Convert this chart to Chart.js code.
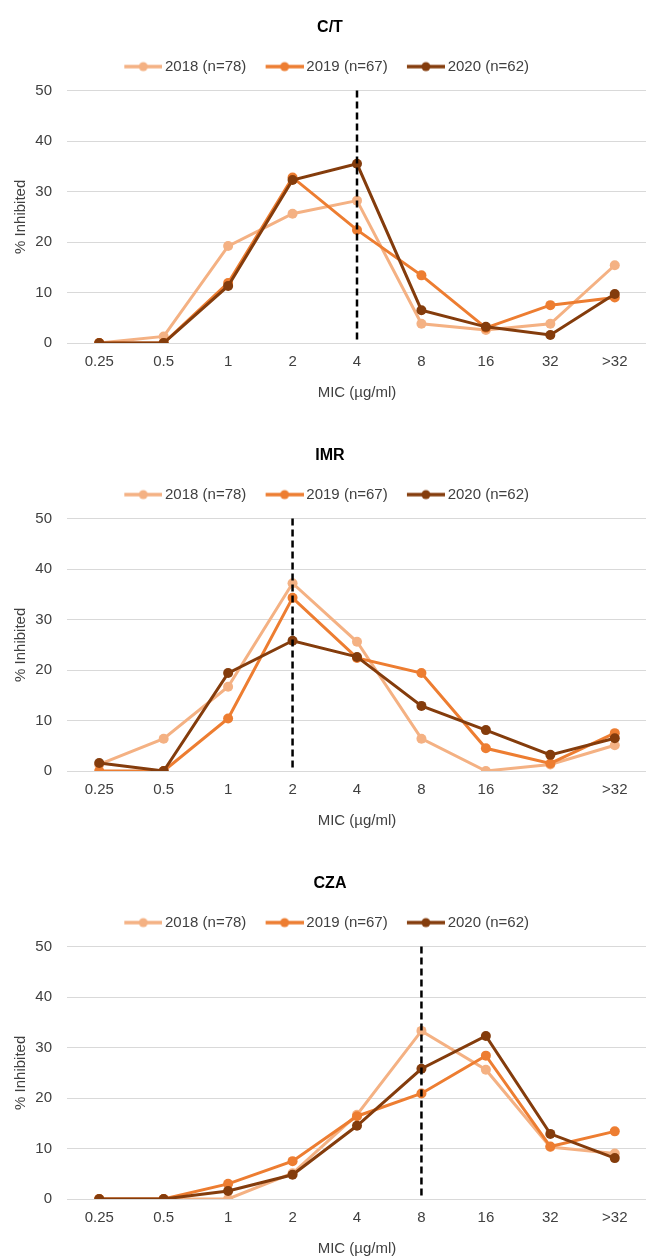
<!DOCTYPE html>
<html>
<head>
<meta charset="utf-8">
<script src="https://cdn.jsdelivr.net/npm/chart.js@4.4.0/dist/chart.umd.min.js"></script>
<style>
  html, body { margin: 0; padding: 0; background: #fff; overflow: hidden; }
  #wrap { position: relative; width: 652px; height: 1256px; overflow: hidden; }
  canvas { position: absolute; left: 0; width: 652px; height: 428px; }
</style>
</head>
<body>
<div id="wrap">
  <canvas id="ctChart" width="652" height="428" style="top:0px"></canvas>
  <canvas id="imrChart" width="652" height="428" style="top:428px"></canvas>
  <canvas id="czaChart" width="652" height="428" style="top:856px"></canvas>
</div>
<script>
// MIC categories and series
const micLabels = ['0.25', '0.5', '1', '2', '4', '8', '16', '32', '>32'];
const yearLabels = ['2018 (n=78)', '2019 (n=67)', '2020 (n=62)'];
const yearColors = ['#F4B183', '#ED7D31', '#843C0C'];

const ct2018 = [0, 1.3, 19.2, 25.6, 28.2, 3.8, 2.6, 3.8, 15.4];
const ct2019 = [0, 0, 11.9, 32.8, 22.4, 13.4, 3.0, 7.5, 9.0];
const ct2020 = [0, 0, 11.3, 32.3, 35.5, 6.5, 3.2, 1.6, 9.7];

const imr2018 = [1.3, 6.4, 16.7, 37.2, 25.6, 6.4, 0, 1.3, 5.1];
const imr2019 = [0, 0, 10.4, 34.3, 22.4, 19.4, 4.5, 1.5, 7.5];
const imr2020 = [1.6, 0, 19.4, 25.8, 22.6, 12.9, 8.1, 3.2, 6.5];

const cza2018 = [0, 0, 0, 5.1, 16.7, 33.3, 25.6, 10.3, 9.0];
const cza2019 = [0, 0, 3.0, 7.5, 16.4, 20.9, 28.4, 10.4, 13.4];
const cza2020 = [0, 0, 1.6, 4.8, 14.5, 25.8, 32.3, 12.9, 8.1];

// breakpoint (dashed line) per drug
const ctBreakpoint = '4';
const imrBreakpoint = '2';
const czaBreakpoint = '8';

const font = "'Liberation Sans', Arial, sans-serif";

// Excel-style legend marker: line with a dot in the middle
function legendIcon(color) {
    const c = document.createElement('canvas');
    c.width = 58;
    c.height = 12;
    const g = c.getContext('2d');
    g.strokeStyle = color;
    g.lineWidth = 3.5;
    g.beginPath();
    g.moveTo(20, 6);
    g.lineTo(58, 6);
    g.stroke();
    g.fillStyle = color;
    g.beginPath();
    g.arc(39, 6, 4.5, 0, Math.PI * 2);
    g.fill();
    return c;
}
const legendIcons = yearColors.map(legendIcon);

// extra room under the legend, and nudge it a bit to the left
const legendGap = {
    id: 'legendGap',
    beforeInit(chart) {
        const fit = chart.legend.fit;
        chart.legend.fit = function () {
            fit.call(this);
            this.height += 6.5;
        };
    },
    afterLayout(chart) {
        chart.legend.left -= 11;
        chart.legend.right -= 11;
    },
};

// dashed breakpoint line
const breakpointLine = {
    id: 'breakpointLine',
    afterDatasetsDraw(chart, args, opts) {
        const x = chart.scales.x.getPixelForValue(micLabels.indexOf(opts.category));
        const y = chart.scales.y;
        const ctx = chart.ctx;
        ctx.save();
        ctx.strokeStyle = '#000';
        ctx.lineWidth = 2.5;
        ctx.setLineDash([7, 4]);
        ctx.beginPath();
        ctx.moveTo(x, y.getPixelForValue(50));
        ctx.lineTo(x, y.getPixelForValue(0));
        ctx.stroke();
        ctx.restore();
    },
};

function makeChart(id, title, series, breakpoint) {
    const ctx = document.getElementById(id).getContext('2d');
    return new Chart(ctx, {
        type: 'line',
        data: {
            labels: micLabels,
            datasets: series.map((values, i) => ({
                label: yearLabels[i],
                data: values,
                borderColor: yearColors[i],
                backgroundColor: yearColors[i],
                borderWidth: 3,
                pointRadius: 5,
                pointBorderWidth: 0,
                pointBackgroundColor: yearColors[i],
                tension: 0,
                order: 2 - i,
            })),
        },
        options: {
            responsive: false,
            animation: false,
            layout: { padding: { left: 8, right: 0, top: 0, bottom: 22 } },
            plugins: {
                title: {
                    display: true,
                    text: title,
                    color: '#000',
                    font: { family: font, size: 16, weight: 'bold' },
                    padding: { top: 18, bottom: 17.9 },
                },
                legend: {
                    display: true,
                    labels: {
                        usePointStyle: true,
                        pointStyleWidth: 48.5,
                        padding: 4,
                        color: '#404040',
                        font: { family: font, size: 15 },
                        sort: (a, b) => a.datasetIndex - b.datasetIndex,
                        generateLabels(chart) {
                            const items = Chart.defaults.plugins.legend.labels.generateLabels(chart);
                            items.forEach(it => { it.pointStyle = legendIcons[it.datasetIndex]; });
                            return items;
                        },
                    },
                },
                tooltip: { enabled: false },
                breakpointLine: { category: breakpoint },
            },
            scales: {
                x: {
                    offset: true,
                    grid: { display: false, drawTicks: false },
                    border: { display: false },
                    ticks: {
                        color: '#404040',
                        padding: 10,
                        font: { family: font, size: 15 },
                    },
                    title: {
                        display: true,
                        text: 'MIC (µg/ml)',
                        color: '#404040',
                        font: { family: font, size: 15 },
                        padding: { top: 3, bottom: 4 },
                    },
                },
                y: {
                    min: 0,
                    max: 50,
                    grid: { color: '#d9d9d9', lineWidth: 1, drawTicks: false },
                    border: { display: false },
                    afterFit(scale) { scale.width = 59; },
                    ticks: {
                        stepSize: 10,
                        color: '#404040',
                        padding: 15,
                        font: { family: font, size: 15 },
                    },
                    title: {
                        display: true,
                        text: '% Inhibited',
                        color: '#404040',
                        font: { family: font, size: 15 },
                        padding: { top: 4, bottom: 4 },
                    },
                },
            },
        },
        plugins: [legendGap, breakpointLine],
    });
}

makeChart('ctChart', 'C/T', [ct2018, ct2019, ct2020], ctBreakpoint);
makeChart('imrChart', 'IMR', [imr2018, imr2019, imr2020], imrBreakpoint);
makeChart('czaChart', 'CZA', [cza2018, cza2019, cza2020], czaBreakpoint);
</script>
</body>
</html>
